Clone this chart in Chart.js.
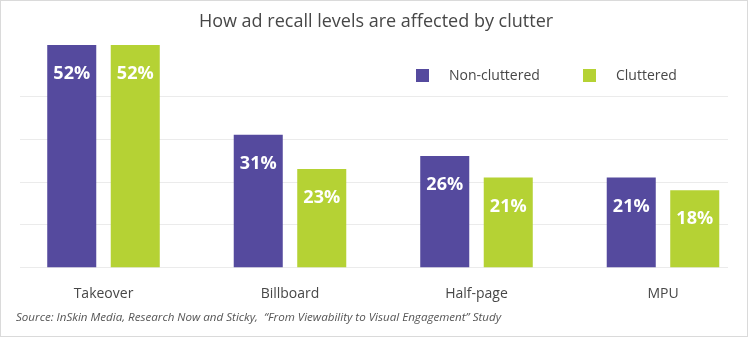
<!DOCTYPE html>
<html lang="en">
<head>
  <meta charset="UTF-8" />
  <title>How ad recall levels are affected by clutter</title>
  <script src="https://cdn.jsdelivr.net/npm/chart.js"></script>
  <style>
    html, body { margin: 0; padding: 0; background: #fff; }
    .chart-box { position: relative; width: 750px; height: 338px; }
  </style>
</head>
<body>
  <div class="chart-box">
    <canvas id="recallChart"></canvas>
  </div>

  <script>
    const formats = ['Takeover', 'Billboard', 'Half-page', 'MPU'];
    const nonCluttered = [52, 31, 26, 21];
    const cluttered = [52, 23, 21, 18];
    const gridValues = [0, 10, 20, 30, 40];

    const chartTitle = 'How ad recall levels are affected by clutter';
    const sourceNote = 'Source: InSkin Media, Research Now and Sticky,  \u201CFrom Viewability to Visual Engagement\u201D Study';

    const purple = '#554a9e';
    const green = '#b5d234';
    const textColor = '#474747';
    const font = '"Open Sans", Arial, sans-serif';

    // light horizontal rules, wider than the plot area
    const gridPlugin = {
      id: 'gridRules',
      beforeDatasetsDraw(chart) {
        const ctx = chart.ctx;
        const y = chart.scales.y;
        ctx.save();
        ctx.strokeStyle = '#ebebeb';
        ctx.lineWidth = 1;
        gridValues.forEach(v => {
          const py = Math.round(y.getPixelForValue(v)) + 0.5;
          ctx.beginPath();
          ctx.moveTo(20, py);
          ctx.lineTo(728, py);
          ctx.stroke();
        });
        ctx.restore();
      }
    };

    // title, legend, value labels, source line and frame
    const decorPlugin = {
      id: 'decor',
      afterDatasetsDraw(chart) {
        const ctx = chart.ctx;
        ctx.save();

        // percentages inside the bars
        ctx.fillStyle = '#fff';
        ctx.font = 'bold 18px ' + font;
        ctx.textAlign = 'center';
        ctx.textBaseline = 'middle';
        chart.data.datasets.forEach((ds, i) => {
          chart.getDatasetMeta(i).data.forEach((bar, j) => {
            ctx.fillText(ds.data[j] + '%', bar.x, bar.y + 29);
          });
        });

        // legend
        const legendX = [416, 583];
        ctx.font = '14px ' + font;
        ctx.textAlign = 'left';
        chart.data.datasets.forEach((ds, i) => {
          ctx.fillStyle = ds.backgroundColor;
          ctx.fillRect(legendX[i], 69, 13, 13);
          ctx.fillStyle = textColor;
          ctx.fillText(ds.label, legendX[i] + 33, 76);
        });

        // title
        ctx.font = '18px ' + font;
        ctx.textAlign = 'center';
        ctx.fillStyle = textColor;
        ctx.fillText(chartTitle, 376, 22);

        // source
        ctx.font = 'italic 11.6px ' + font;
        ctx.textAlign = 'left';
        ctx.fillStyle = '#555';
        ctx.fillText(sourceNote, 16, 318);

        // frame
        ctx.strokeStyle = '#dadada';
        ctx.lineWidth = 1;
        ctx.strokeRect(0.5, 0.5, 747, 336);

        ctx.restore();
      }
    };

    const ctx = document.getElementById('recallChart').getContext('2d');
    new Chart(ctx, {
      type: 'bar',
      data: {
        labels: formats,
        datasets: [
          {
            label: 'Non-cluttered',
            data: nonCluttered,
            backgroundColor: purple,
            categoryPercentage: 0.681,
            barPercentage: 0.772,
            clip: false
          },
          {
            label: 'Cluttered',
            data: cluttered,
            backgroundColor: green,
            categoryPercentage: 0.681,
            barPercentage: 0.772,
            clip: false
          }
        ]
      },
      options: {
        responsive: true,
        maintainAspectRatio: false,
        animation: false,
        layout: {
          padding: { left: 103.5, right: 87, top: 45, bottom: 18 }
        },
        plugins: {
          legend: { display: false },
          tooltip: { enabled: false }
        },
        scales: {
          x: {
            offset: false,
            grid: { display: false, drawTicks: false },
            border: { display: false },
            ticks: {
              color: textColor,
              padding: 18,
              font: { family: font, size: 14 }
            }
          },
          y: {
            display: false,
            min: 0,
            max: 52
          }
        }
      },
      plugins: [gridPlugin, decorPlugin]
    });
  </script>
</body>
</html>
